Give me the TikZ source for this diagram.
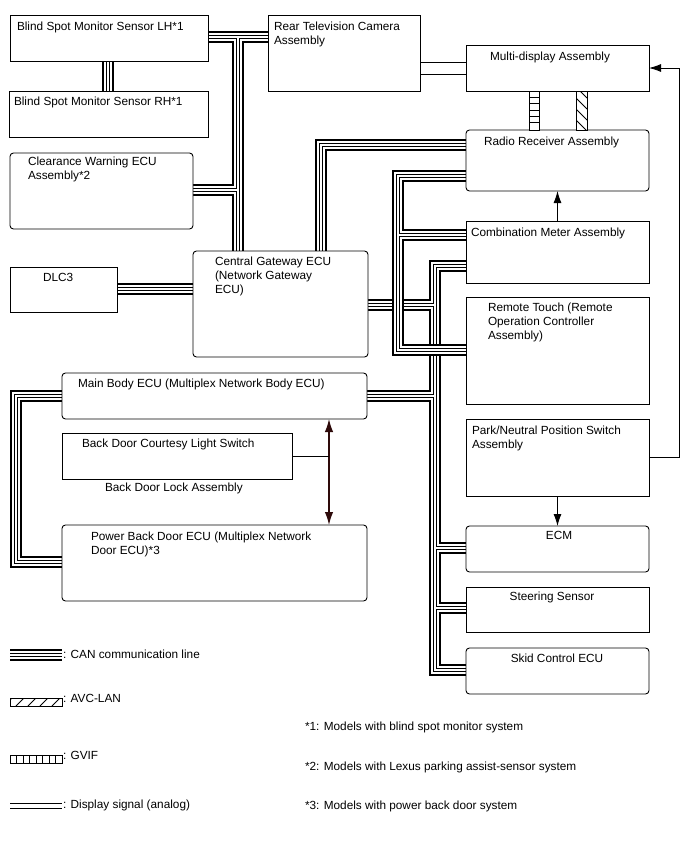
\documentclass[tikz,border=0pt]{standalone}
\usepackage{fontspec}
\setmainfont{Liberation Sans}
\usetikzlibrary{arrows.meta,calc,backgrounds}
\definecolor{arrbrown}{HTML}{2E0A0A}
\newcommand\canmain[1]{%
  \draw[#1] (bsl.east |- c1) -- (rtv.west |- c1);
  \draw[#1] (c1) -- (cgw.north -| c1);
  \draw[#1] (cw.east |- c2) -- (c2);
  \draw[#1] (bsl.south -| c3) -- (bsr.north -| c3);
  \draw[#1] (dlc.east |- c4) -- (cgw.west |- c4);
  \draw[#1] (cgw.north -| c5) -- (c5) -- (rr.west |- c5);
  \draw[#1] (mb.west |- c6) -- (c6) -- (c7) -- (pbd.west |- c7);
  \draw[#1] (cm.west |- v2t) -- (v2t) -- (v2b) -- (sk.west |- v2b);
  \draw[#1] (cgw.east |- v2c) -- (v2c);
  \draw[#1] (mb.east |- v2m) -- (v2m);
  \draw[#1] (v2e) -- (ecm.west |- v2e);
  \draw[#1] (v2s) -- (ss.west |- v2s);
}
\newcommand\canvone[1]{%
  \draw[#1] (rr.west |- v1t) -- (v1t) -- (v1b) -- (rt.west |- v1b);
  \draw[#1] (v1c) -- (cm.west |- v1c);
}
\newcommand\canleg[1]{%
  \draw[#1] (lg1) -- (lg2);
}
\begin{document}
\begin{tikzpicture}[x=1pt,y=-1pt,
  box/.style={draw=black, line width=0.9pt, fill=white, inner sep=0pt, outer sep=0pt, anchor=north west},
  rbox/.style={box, rounded corners=3.5pt},
  txt/.style={inner sep=0pt, outer sep=0pt, anchor=north west, align=left, font=\fontsize{11.8}{14}\selectfont},
  ctxt/.style={txt, anchor=north, align=center},
  canA/.style={line width=12pt, black, line join=miter},
  canB/.style={line width=8pt, white, line join=miter},
  canC/.style={line width=4pt, black, line join=miter},
  canD/.style={line width=2pt, white, line join=miter},
  sig/.style={line width=0.9pt, black},
  arr/.style={sig, -{Latex[length=12pt,width=8pt]}},
  darr/.style={line width=1.4pt, arrbrown, {Latex[length=13pt,width=8.5pt]}-{Latex[length=13pt,width=8.5pt]}},
]
\useasboundingbox (0,0) rectangle (688,852);

% boxes
\node[box, minimum width=198pt, minimum height=46pt] (bsl) at (10,15) {};
\node[box, minimum width=199pt, minimum height=46pt] (bsr) at (9,91) {};
\node[rbox, minimum width=183pt, minimum height=76pt] (cw) at (10,153) {};
\node[box, minimum width=152pt, minimum height=76pt] (rtv) at (268,15) {};
\node[box, minimum width=183pt, minimum height=46pt] (md) at (466,45) {};
\node[rbox, minimum width=183pt, minimum height=61pt] (rr) at (466,130) {};
\node[box, minimum width=183pt, minimum height=62pt] (cm) at (466,221) {};
\node[box, minimum width=183pt, minimum height=107pt] (rt) at (466,297) {};
\node[box, minimum width=183pt, minimum height=77pt] (pn) at (466,419) {};
\node[rbox, minimum width=183pt, minimum height=46pt] (ecm) at (466,526) {};
\node[box, minimum width=183pt, minimum height=45pt] (ss) at (466,587) {};
\node[rbox, minimum width=183pt, minimum height=46pt] (sk) at (466,648) {};
\node[box, minimum width=107pt, minimum height=45pt] (dlc) at (10,267) {};
\node[rbox, minimum width=175pt, minimum height=106pt] (cgw) at (193,251) {};
\node[rbox, minimum width=305pt, minimum height=46pt] (mb) at (62,373) {};
\node[box, minimum width=230pt, minimum height=46pt] (bdc) at (62,433) {};
\node[rbox, minimum width=305pt, minimum height=76pt] (pbd) at (62,525) {};

% bus coordinates
\coordinate (c1) at (238,37);
\coordinate (c2) at (238,190);
\coordinate (c3) at (108,0);
\coordinate (c4) at (0,289);
\coordinate (c5) at (321,145);
\coordinate (c6) at (16,396);
\coordinate (c7) at (16,562);
\coordinate (v2t) at (435,266);
\coordinate (v2b) at (435,670);
\coordinate (v2c) at (435,305);
\coordinate (v2m) at (435,396);
\coordinate (v2e) at (435,548);
\coordinate (v2s) at (435,608);
\coordinate (v1t) at (398,176);
\coordinate (v1b) at (398,350);
\coordinate (v1c) at (398,235);
\coordinate (lg1) at (10,655);
\coordinate (lg2) at (62,655);

\begin{scope}[on background layer]
  \fill[white] (0,0) rectangle (688,852);
  \canmain{canA}\canmain{canB}\canmain{canC}\canmain{canD}
  \canvone{canA}\canvone{canB}\canvone{canC}\canvone{canD}
\end{scope}

% texts
\node[txt] (tbsl) at (17,21.5) {Blind Spot Monitor Sensor LH*1};
\node[txt] (tbsr) at (14,96.5) {Blind Spot Monitor Sensor RH*1};
\node[txt] (tcw) at (28,157) {Clearance Warning ECU\\Assembly*2};
\node[txt] (trtv) at (274,21.5) {Rear Television Camera\\Assembly};
\node[txt] (tmd) at (490,51.5) {Multi-display Assembly};
\node[txt] (trr) at (484,136.5) {Radio Receiver Assembly};
\node[txt] (tcm) at (471,227.5) {Combination Meter Assembly};
\node[txt] (trt) at (488,303) {Remote Touch (Remote\\Operation Controller\\Assembly)};
\node[txt] (tpn) at (472,425.5) {Park/Neutral Position Switch\\Assembly};
\node[ctxt] (tecm) at (559,531.5) {ECM};
\node[ctxt] (tss) at (552,591.5) {Steering Sensor};
\node[ctxt] (tsk) at (557,654) {Skid Control ECU};
\node[txt] (tdlc) at (43,273) {DLC3};
\node[txt] (tcgw) at (215,257) {Central Gateway ECU\\(Network Gateway\\ECU)};
\node[txt] (tmb) at (78,379) {Main Body ECU (Multiplex Network Body ECU)};
\node[txt] (tbdc) at (82,439) {Back Door Courtesy Light Switch};
\node[txt] (tbdl) at (105,483) {Back Door Lock Assembly};
\node[txt] (tpbd) at (91,532) {Power Back Door ECU (Multiplex Network\\Door ECU)*3};

% display signal RTV -> MD
\coordinate (d1) at (440,62);
\coordinate (d2) at (440,74);
\draw[sig] (rtv.east |- d1) -- (md.west |- d1);
\draw[sig] (rtv.east |- d2) -- (md.west |- d2);

% GVIF between MD and RR
\coordinate (g1) at (529,0);
\coordinate (g2) at (539,0);
\draw[sig, fill=white] (md.south -| g1) rectangle (rr.north -| g2);
\foreach \yy in {97,103.3,110,116.3,122.6} {
  \draw[sig] (529,\yy) -- (539,\yy);
}
% AVC-LAN between MD and RR
\coordinate (a1) at (576,0);
\coordinate (a2) at (587,0);
\draw[sig, fill=white] (md.south -| a1) rectangle (rr.north -| a2);
\begin{scope}
  \clip (576,91.5) rectangle (587,130.5);
  \foreach \yy in {76,87,98,109,120,131} {
    \draw[sig] (576,\yy) -- (587,\yy+11);
  }
\end{scope}

% arrows
\draw[arr] (cm.north) -- (rr.south);
\draw[arr] (pn.south) -- (ecm.north);
\draw[arr] (pn.east) -- ++(30,0) |- (md.east);
\coordinate (xa) at (329,0);
\draw[darr] (mb.south -| xa) -- (pbd.north -| xa);
\draw[sig] (bdc.east) -- (bdc.east -| xa);

% legend
\canleg{canA}\canleg{canB}\canleg{canC}\canleg{canD}
\node[txt] (lcan) at (63,649.5) {: CAN communication line};
\node[draw=black, line width=0.9pt, inner sep=0pt, minimum width=52pt, minimum height=8pt, anchor=north west] (lavc) at (10,698) {};
\begin{scope}
  \clip (10,698) rectangle (62,706);
  \foreach \xx in {4,16,28,40,52,64} {
    \draw[sig] (\xx,706) -- (\xx+8,698);
  }
\end{scope}
\node[txt] (tavc) at (63,694.5) {: AVC-LAN};
\node[draw=black, line width=0.9pt, inner sep=0pt, minimum width=52pt, minimum height=8pt, anchor=north west] (lgvif) at (10,755) {};
\foreach \xx in {16.5,23,29.5,36,42.5,49,55.5} {
  \draw[sig] (\xx,755) -- (\xx,763);
}
\node[txt] (tgvif) at (63,751) {: GVIF};
\coordinate (ls1) at (10,803);
\coordinate (ls2) at (62,803);
\coordinate (ls3) at (10,808.5);
\coordinate (ls4) at (62,808.5);
\draw[sig] (ls1) -- (ls2);
\draw[sig] (ls3) -- (ls4);
\node[txt] (tdisp) at (63,799.5) {: Display signal (analog)};

% footnotes
\node[txt] (fn1) at (305,722) {*1: Models with blind spot monitor system};
\node[txt] (fn2) at (305,762) {*2: Models with Lexus parking assist-sensor system};
\node[txt] (fn3) at (305,801) {*3: Models with power back door system};
\end{tikzpicture}
\end{document}
